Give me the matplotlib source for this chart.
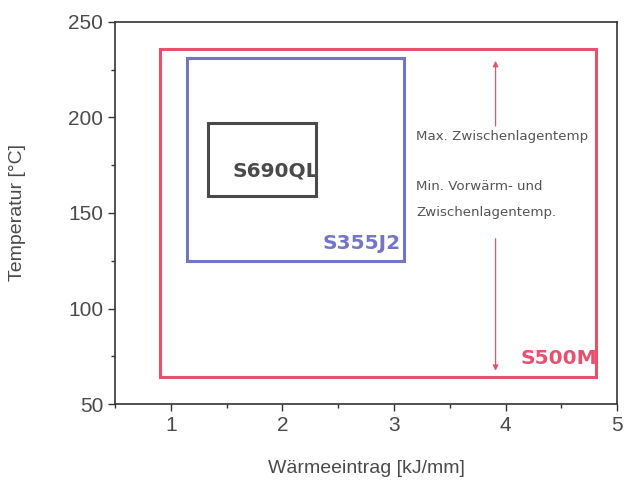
import matplotlib
matplotlib.use('Agg')
import matplotlib.pyplot as plt
from matplotlib.patches import Rectangle
from matplotlib.ticker import MultipleLocator

plt.rcParams['font.family'] = ['Liberation Sans', 'DejaVu Sans']

# steel grades: working window (heat input x, temperature y)
grades = ['S500M', 'S355J2', 'S690QL']
x_min = [0.90, 1.15, 1.33]
x_max = [4.81, 3.09, 2.30]
t_min = [64, 125, 159]
t_max = [236, 231, 197]
colors = ['#e8506e', '#7474c8', '#4a4a4a']
label_pos = [(4.82, 74), (3.06, 134), (1.55, 172)]
label_ha = ['right', 'right', 'left']

# arrows marking the temperature limits
arrow_x = 3.91
arrow_up = (194, 231)
arrow_down = (138, 66)

fig = plt.figure(figsize=(6.35, 4.84), dpi=100)
ax = fig.add_axes([0.181, 0.165, 0.791, 0.79])

for g, x0, x1, y0, y1, c, (lx, ly), ha in zip(grades, x_min, x_max, t_min, t_max,
                                             colors, label_pos, label_ha):
    ax.add_patch(Rectangle((x0, y0), x1 - x0, y1 - y0, fill=False,
                           edgecolor=c, linewidth=2.2))
    ax.text(lx, ly, g, color=c, fontsize=14.5, fontweight='bold',
            ha=ha, va='center', family=['DejaVu Sans'])

for y0, y1 in (arrow_up, arrow_down):
    ax.annotate('', xy=(arrow_x, y1), xytext=(arrow_x, y0),
                arrowprops=dict(arrowstyle='-|>', color='#e8506e', lw=0.9,
                                mutation_scale=8))

txt = dict(fontsize=9.6, color='#555555', ha='left', va='center',
           family=['DejaVu Sans'])
ax.text(3.2, 190, 'Max. Zwischenlagentemp', **txt)
ax.text(3.2, 164, 'Min. Vorwärm- und', **txt)
ax.text(3.2, 150, 'Zwischenlagentemp.', **txt)

ax.set_xlim(0.5, 5)
ax.set_ylim(50, 250)
ax.xaxis.set_major_locator(MultipleLocator(1))
ax.xaxis.set_minor_locator(MultipleLocator(0.5))
ax.yaxis.set_major_locator(MultipleLocator(50))
ax.yaxis.set_minor_locator(MultipleLocator(25))
ax.tick_params(which='major', length=5, width=1, colors='#333333',
               labelsize=15, labelcolor='#4a4a4a')
ax.tick_params(which='minor', length=3, width=1, colors='#333333')
for s in ax.spines.values():
    s.set_color('#333333')
    s.set_linewidth(1.2)

ax.set_xlabel('Wärmeeintrag [kJ/mm]', fontsize=14, color='#4a4a4a', labelpad=18)
ax.set_ylabel('Temperatur [°C]', fontsize=14, color='#4a4a4a', labelpad=30)

fig.savefig('out.png', dpi=100)
